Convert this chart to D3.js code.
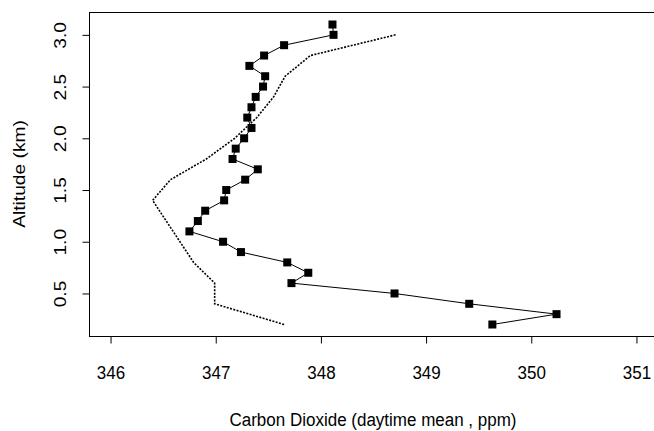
<!DOCTYPE html>
<html>
<head>
<meta charset="utf-8">
<script src="https://cdn.jsdelivr.net/npm/d3@7"></script>
<style>
  body { margin: 0; background: #fff; }
  text { font-family: "Liberation Sans", Arial, Helvetica, sans-serif; fill: #000; }
</style>
</head>
<body>
<svg id="chart" width="654" height="431"></svg>
<script>
// measured CO2 profile (squares) and model profile (dotted)
const altitude = [0.2, 0.3, 0.4, 0.5, 0.6, 0.7, 0.8, 0.9, 1.0, 1.1, 1.2, 1.3, 1.4, 1.5, 1.6,
                  1.7, 1.8, 1.9, 2.0, 2.1, 2.2, 2.3, 2.4, 2.5, 2.6, 2.7, 2.8, 2.9, 3.0, 3.1];
const co2 = [349.63, 350.24, 349.41, 348.70, 347.72, 347.88, 347.68, 347.24, 347.07, 346.75,
             346.83, 346.90, 347.08, 347.10, 347.28, 347.40, 347.16, 347.19, 347.27, 347.34,
             347.30, 347.34, 347.38, 347.45, 347.47, 347.32, 347.46, 347.65, 348.12, 348.11];

const modelAltitude = [0.2, 0.4, 0.6, 0.8, 1.0, 1.2, 1.4, 1.6, 1.8, 2.0, 2.2, 2.4, 2.6, 2.8, 3.0];
const modelCo2 = [347.65, 346.99, 346.99, 346.79, 346.66, 346.53, 346.40, 346.57, 346.91, 347.18,
                  347.39, 347.55, 347.66, 347.90, 348.71];

const xTicks = [346, 347, 348, 349, 350, 351];
const yTicks = [0.5, 1.0, 1.5, 2.0, 2.5, 3.0];

const FONT = 17;
const STRETCH = 1.13;   // labels in the reference are a bit taller than wide

var svg = d3.select("#chart");

// R-style plot region, 4% padding on both axes
var x = d3.scaleLinear().domain([345.8, 351.2]).range([89.5, 657.5]);
var y = d3.scaleLinear().domain([0.084, 3.216]).range([336.5, 12.5]);

// box
svg.append("rect")
  .attr("x", 89.5).attr("y", 12.5)
  .attr("width", 568).attr("height", 324)
  .attr("fill", "none").attr("stroke", "#000").attr("stroke-width", 1);

// x axis
var gx = svg.append("g")
  .attr("transform", "translate(0,336.5)")
  .call(d3.axisBottom(x).tickValues(xTicks).tickSize(7).tickFormat(d3.format("d")));
gx.select(".domain").remove();
gx.selectAll("line").attr("stroke", "#000");
gx.selectAll("text")
  .attr("y", null).attr("dy", null)
  .style("font-size", FONT + "px")
  .attr("transform", "translate(0,42.5) scale(1," + STRETCH + ")");

// y axis, labels parallel to the axis
var gy = svg.append("g")
  .attr("transform", "translate(89.5,0)")
  .call(d3.axisLeft(y).tickValues(yTicks).tickSize(7).tickFormat(d3.format(".1f")));
gy.select(".domain").remove();
gy.selectAll("line").attr("stroke", "#000");
gy.selectAll("text")
  .attr("x", null).attr("dy", null)
  .attr("text-anchor", "middle")
  .style("font-size", FONT + "px")
  .attr("transform", "translate(-24,0) scale(1," + STRETCH + ") rotate(-90)");

// axis titles
svg.append("text")
  .attr("text-anchor", "middle")
  .style("font-size", FONT + "px")
  .attr("transform", "translate(373,426) scale(1," + STRETCH + ")")
  .text("Carbon Dioxide (daytime mean , ppm)");

svg.append("text")
  .attr("text-anchor", "middle")
  .style("font-size", FONT + "px")
  .attr("transform", "translate(25,174) scale(1," + STRETCH + ") rotate(-90)")
  .text("Altitude (km)");

// model profile, dotted
var model = modelAltitude.map(function(a, i) { return [modelCo2[i], a]; });
var line = d3.line()
  .x(function(d) { return x(d[0]); })
  .y(function(d) { return y(d[1]); });

svg.append("path")
  .datum(model)
  .attr("d", line)
  .attr("fill", "none")
  .attr("stroke", "#000")
  .attr("stroke-width", 1.6)
  .attr("stroke-dasharray", "2,1.4");

// observed profile, line + filled squares
var obs = altitude.map(function(a, i) { return [co2[i], a]; });
svg.append("path")
  .datum(obs)
  .attr("d", line)
  .attr("fill", "none")
  .attr("stroke", "#000")
  .attr("stroke-width", 1);

var sq = 8;
svg.selectAll("rect.pt")
  .data(obs)
  .enter().append("rect")
    .attr("class", "pt")
    .attr("x", function(d) { return x(d[0]) - sq / 2; })
    .attr("y", function(d) { return y(d[1]) - sq / 2; })
    .attr("width", sq).attr("height", sq)
    .attr("fill", "#000");
</script>
</body>
</html>
